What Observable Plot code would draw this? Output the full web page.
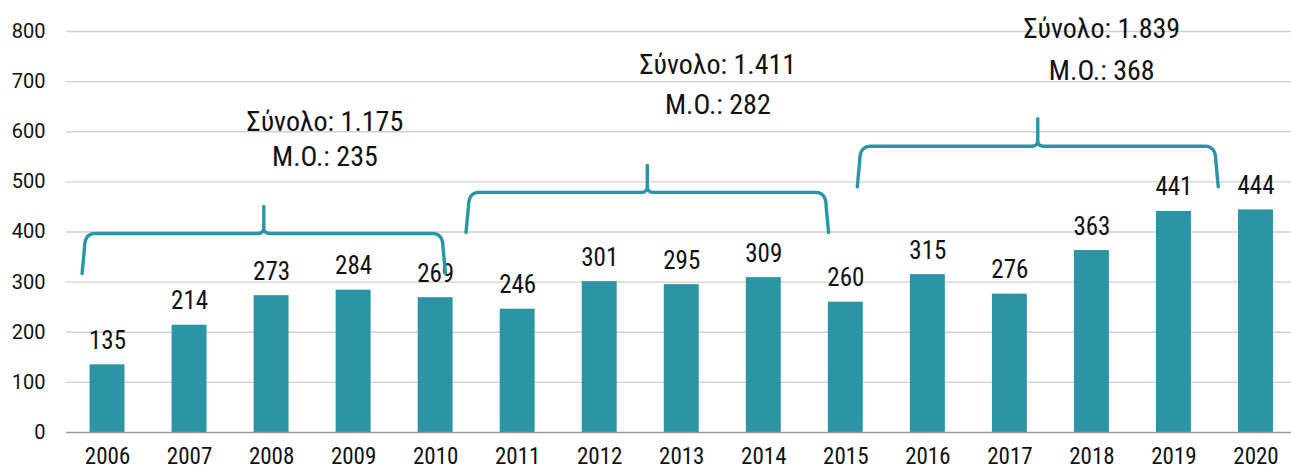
<!DOCTYPE html>
<html><head><meta charset="utf-8">
<script src="https://cdn.jsdelivr.net/npm/d3@7"></script>
<script src="https://cdn.jsdelivr.net/npm/@observablehq/plot@0.6"></script>
<style>html,body{margin:0;padding:0;background:#fff;overflow:hidden}</style>
</head><body><div id="chart"></div>
<script>
// ---- data ----
const years = [2006, 2007, 2008, 2009, 2010, 2011, 2012, 2013, 2014, 2015, 2016, 2017, 2018, 2019, 2020];
const values = [135, 214, 273, 284, 269, 246, 301, 295, 309, 260, 315, 276, 363, 441, 444];
const yTicks = [0, 100, 200, 300, 400, 500, 600, 700, 800];

// brace annotations (data units: year / value)
const braceFrom = [2005.69, 2010.37, 2015.14];
const braceTo = [2010.12, 2014.79, 2019.54];
const braceFoot = [317, 399, 490];
const braceArm = [397, 479, 571];
const braceTip = [451, 533, 626];

const totalLabels = ["Σύνολο: 1.175", "Σύνολο: 1.411", "Σύνολο: 1.839"];
const meanLabels = ["Μ.Ο.: 235", "Μ.Ο.: 282", "Μ.Ο.: 368"];
const labelX = [2008.65, 2013.44, 2018.12];
const totalY = [619, 733, 804];
const meanY = [549, 653, 721];

// ---- styling ----
const TEAL = "#2B95A6";
const NARROW = "'Liberation Sans Narrow', 'Roboto Condensed', Roboto, sans-serif";
const HALF = 0.213;

const bars = years.map((year, i) => ({year, value: values[i]}));
const groups = labelX.map((x, i) => ({x, total: totalLabels[i], mean: meanLabels[i], ty: totalY[i], my: meanY[i]}));
const braces = braceFrom.map((from, i) => ({from, to: braceTo[i], foot: braceFoot[i], arm: braceArm[i], tip: braceTip[i]}));

function quad(p0, p1, p2, n = 10) {
  const out = [];
  for (let k = 1; k <= n; k++) {
    const t = k / n, u = 1 - t;
    out.push([u * u * p0[0] + 2 * u * t * p1[0] + t * t * p2[0], u * u * p0[1] + 2 * u * t * p1[1] + t * t * p2[1]]);
  }
  return out;
}
function bracePoints(b, id) {
  const rx = 0.16, ry = 28, tx = 0.08, ty = 12, lean = 0.03;
  const mid = (b.from + b.to) / 2;
  const pts = [[b.from, b.foot], [b.from + lean, b.arm - ry]];
  pts.push(...quad([b.from + lean, b.arm - ry], [b.from + lean, b.arm], [b.from + rx, b.arm]));
  pts.push([mid - tx, b.arm]);
  pts.push(...quad([mid - tx, b.arm], [mid, b.arm], [mid, b.arm + ty]));
  pts.push([mid, b.tip]);
  pts.push([mid, b.arm + ty]);
  pts.push(...quad([mid, b.arm + ty], [mid, b.arm], [mid + tx, b.arm]));
  pts.push([b.to - rx, b.arm]);
  pts.push(...quad([b.to - rx, b.arm], [b.to - lean, b.arm], [b.to - lean, b.arm - ry]));
  pts.push([b.to, b.foot]);
  return pts.map(([x, y]) => ({x, y, id}));
}
const braceLines = braces.flatMap((b, i) => bracePoints(b, i));

const chart = Plot.plot({
  width: 1291,
  height: 469,
  marginLeft: 66,
  marginRight: -5.5,
  marginTop: 31,
  marginBottom: 37,
  style: {fontFamily: NARROW, background: "#fff", color: "#111"},
  x: {type: "linear", domain: [2005.5, 2020.5]},
  y: {domain: [0, 800]},
  marks: [
    Plot.ruleY(yTicks.filter(d => d > 0), {stroke: "#d0d0d0", strokeWidth: 1.3}),
    Plot.rectY(bars, {x1: d => d.year - HALF, x2: d => d.year + HALF, y: "value", fill: TEAL}),
    Plot.ruleY([0], {stroke: "#9a9a9a", strokeWidth: 1.5}),
    Plot.axisY(yTicks, {tickSize: 0, tickPadding: 21, fontSize: 20, fontFamily: "Roboto", label: null, fill: "#111"}),
    Plot.axisX(years, {tickSize: 0, tickPadding: 15, fontSize: 23, fontFamily: NARROW, tickFormat: "d", label: null, fill: "#111"}),
    Plot.text(bars, {x: "year", y: "value", text: d => String(d.value), lineAnchor: "bottom", dy: -16, fontSize: 25, fontFamily: NARROW, fill: "#111"}),
    Plot.line(braceLines, {x: "x", y: "y", z: "id", stroke: TEAL, strokeWidth: 3.4, strokeLinejoin: "round", curve: "linear"}),
    Plot.text(groups, {x: "x", y: "ty", text: "total", fontSize: 28, lineAnchor: "middle", fontFamily: NARROW, fill: "#111"}),
    Plot.text(groups, {x: "x", y: "my", text: "mean", fontSize: 28, lineAnchor: "middle", fontFamily: NARROW, fill: "#111"})
  ]
});
document.getElementById("chart").appendChild(chart);
</script>
</body></html>
